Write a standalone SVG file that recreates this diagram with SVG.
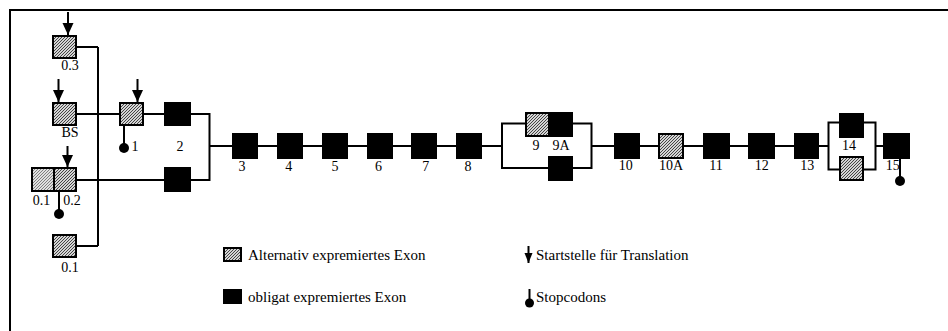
<svg xmlns="http://www.w3.org/2000/svg" width="948" height="331" viewBox="0 0 948 331">
  <defs>
    <pattern id="hatch" patternUnits="userSpaceOnUse" width="3" height="3">
      <rect width="3" height="3" fill="#d4d4d4"/>
      <path d="M-1,1 l2,-2 M0,3 l3,-3 M2,4 l2,-2" stroke="#333" stroke-width="0.9"/>
    </pattern>
    <pattern id="hatchLight" patternUnits="userSpaceOnUse" width="3" height="3">
      <rect width="3" height="3" fill="#e0e0e0"/>
      <path d="M-1,1 l2,-2 M0,3 l3,-3 M2,4 l2,-2" stroke="#666" stroke-width="0.8"/>
    </pattern>
    <marker id="arrowHead" markerUnits="userSpaceOnUse" markerWidth="14" markerHeight="14" refX="12" refY="5.5" orient="auto">
      <path d="M0,0 L12,5.5 L0,11 Z" fill="#000"/>
    </marker>
    <marker id="arrowHeadSmall" markerUnits="userSpaceOnUse" markerWidth="12" markerHeight="12" refX="10" refY="4" orient="auto">
      <path d="M0,0 L10,4 L0,8 Z" fill="#000"/>
    </marker>
  </defs>
  <style>
    .alt { fill: url(#hatch); stroke: #000; stroke-width: 2; }
    .alt2 { fill: url(#hatchLight); stroke: #000; stroke-width: 2; }
    .obl { fill: #000; stroke: #000; stroke-width: 2; }
    .wire { fill: none; stroke: #000; stroke-width: 2; }
    .start { fill: none; stroke: #000; stroke-width: 2; marker-end: url(#arrowHead); }
    .startSmall { fill: none; stroke: #000; stroke-width: 2; marker-end: url(#arrowHeadSmall); }
    .stop { fill: none; stroke: #000; stroke-width: 2; }
    .dot { fill: #000; }
    text { font-family: "Liberation Serif", "Times New Roman", serif; font-size: 14px; fill: #000; }
    .lbl { text-anchor: middle; }
    .leg { font-size: 15px; }
  </style>

  <rect width="948" height="331" fill="#fff"/>
  <!-- frame: top and left edges -->
  <path d="M10,331 V10 H948" fill="none" stroke="#000" stroke-width="2"/>

  <!-- connectors -->
  <g id="connectors">
    <path class="wire" d="M98,47 V246 M77,47 H98 M77,246 H98"/>
    <path class="wire" d="M77,114 H120 M143,114 H165 M190,114 H209.5"/>
    <path class="wire" d="M77,180 H165 M190,180 H209.5 M209.5,113 V181"/>
    <path class="wire" d="M209.5,146 H502"/>
    <path class="wire" d="M526,123.5 H502 V168 H549 M572,123.5 H591.5 V168 H572"/>
    <path class="wire" d="M591.5,146 H828.5"/>
    <path class="wire" d="M840,122.5 H828.5 V169.5 H840 M863,122.5 H875.5 V169.5 H863"/>
    <path class="wire" d="M875.5,146 H884"/>
    <!-- translation start sites -->
    <path class="start" d="M68,12 V35"/>
    <path class="start" d="M58.5,79 V102"/>
    <path class="start" d="M137.5,79 V102"/>
    <path class="start" d="M67.5,146 V167"/>
    <!-- stop codons -->
    <path class="stop" d="M124,126 V147"/>
    <circle class="dot" cx="124" cy="148" r="5"/>
    <path class="stop" d="M59,192 V213"/>
    <circle class="dot" cx="59" cy="214" r="5"/>
    <path class="stop" d="M900,158 V180"/>
    <circle class="dot" cx="900" cy="181" r="5"/>
  </g>

  <!-- first exons -->
  <g id="exon-0-3"><rect class="alt" x="53" y="36" width="23" height="22"/><text class="lbl" x="70" y="70">0.3</text></g>
  <g id="exon-BS"><rect class="alt" x="53" y="103" width="23" height="22"/><text class="lbl" x="70" y="137">BS</text></g>
  <g id="exon-0-1a"><rect class="alt2" x="32" y="168" width="22" height="23"/><text class="lbl" x="41.5" y="205">0.1</text></g>
  <g id="exon-0-2"><rect class="alt" x="54" y="168" width="22" height="23"/><text class="lbl" x="72" y="205">0.2</text></g>
  <g id="exon-0-1b"><rect class="alt" x="53" y="235" width="23" height="22"/><text class="lbl" x="70" y="272">0.1</text></g>
  <g id="exon-1"><rect class="alt" x="120" y="103" width="23" height="22"/><text class="lbl" x="135" y="151">1</text></g>
  <g id="exon-2"><rect class="obl" x="165" y="103" width="25" height="22"/><text class="lbl" x="180" y="151">2</text></g>
  <g id="exon-2b"><rect class="obl" x="165" y="168" width="25" height="23"/></g>

  <!-- main chain -->
  <g id="exon-3"><rect class="obl" x="233" y="134" width="24" height="24"/><text class="lbl" x="242" y="171">3</text></g>
  <g id="exon-4"><rect class="obl" x="278" y="134" width="24" height="24"/><text class="lbl" x="288.7" y="171">4</text></g>
  <g id="exon-5"><rect class="obl" x="323" y="134" width="24" height="24"/><text class="lbl" x="335" y="171">5</text></g>
  <g id="exon-6"><rect class="obl" x="368" y="134" width="24" height="24"/><text class="lbl" x="378.5" y="171">6</text></g>
  <g id="exon-7"><rect class="obl" x="412" y="134" width="24" height="24"/><text class="lbl" x="425.7" y="171">7</text></g>
  <g id="exon-8"><rect class="obl" x="457" y="134" width="24" height="24"/><text class="lbl" x="468" y="171">8</text></g>

  <g id="exon-9"><rect class="alt" x="526" y="113" width="23" height="23"/><text class="lbl" x="536" y="150">9</text></g>
  <g id="exon-9A"><rect class="obl" x="549" y="113" width="23" height="23"/><text class="lbl" x="561" y="150">9A</text></g>
  <g id="exon-9b"><rect class="obl" x="549" y="157" width="23" height="23"/></g>

  <g id="exon-10"><rect class="obl" x="615" y="134" width="24" height="24"/><text class="lbl" x="625.7" y="170">10</text></g>
  <g id="exon-10A"><rect class="alt" x="659" y="134" width="24" height="24"/><text class="lbl" x="671" y="170">10A</text></g>
  <g id="exon-11"><rect class="obl" x="704" y="134" width="25" height="24"/><text class="lbl" x="716" y="170">11</text></g>
  <g id="exon-12"><rect class="obl" x="749" y="134" width="25" height="24"/><text class="lbl" x="761.7" y="170">12</text></g>
  <g id="exon-13"><rect class="obl" x="795" y="134" width="23" height="24"/><text class="lbl" x="807.3" y="170">13</text></g>

  <g id="exon-14"><rect class="obl" x="840" y="114" width="23" height="23"/><text class="lbl" x="849" y="150">14</text></g>
  <g id="exon-14b"><rect class="alt" x="840" y="157" width="23" height="23"/></g>
  <g id="exon-15"><rect class="obl" x="884" y="134" width="25" height="24"/><text class="lbl" x="892.7" y="170">15</text></g>

  <!-- legend -->
  <g id="legend-alt"><rect class="alt" x="224" y="248" width="17" height="13"/><text class="leg" x="248" y="260">Alternativ expremiertes Exon</text></g>
  <g id="legend-obl"><rect class="obl" x="224" y="290" width="17" height="13"/><text class="leg" x="248" y="302">obligat expremiertes Exon</text></g>
  <g id="legend-start"><path class="startSmall" d="M528.5,246 V263"/><text class="leg" x="536" y="260">Startstelle für Translation</text></g>
  <g id="legend-stop"><path class="stop" d="M529.5,289 V301"/><circle class="dot" cx="529.5" cy="303" r="4.5"/><text class="leg" x="536" y="302">Stopcodons</text></g>
</svg>
